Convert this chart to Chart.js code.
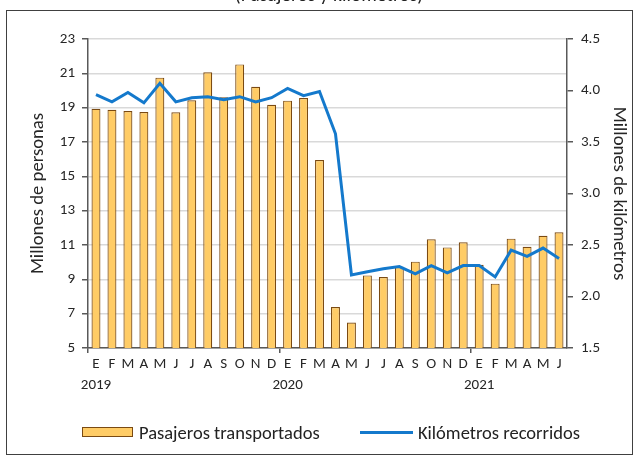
<!DOCTYPE html>
<html>
<head>
<meta charset="utf-8">
<script src="https://cdn.jsdelivr.net/npm/chart.js@4.4.1/dist/chart.umd.min.js"></script>
<style>
  body { margin: 0; background: #fff; font-family: Carlito, "Open Sans", "Liberation Sans", sans-serif; }
  #wrap { position: relative; width: 639px; height: 460px; overflow: hidden; }
  #chart { position: absolute; left: 0; top: 0; }
  #frame { position: absolute; left: 6px; top: 10px; width: 625px; height: 443px; border: 1.5px solid #404040; }
  #title { position: absolute; top: -17px; left: 0; width: 658px; text-align: center; font-size: 19.5px; line-height: 22px; color: #222; }
  .item { position: absolute; top: 423px; height: 18px; display: flex; align-items: center; font-size: 18.5px; color: #222; white-space: nowrap; }
  .swatch { display: inline-block; margin-right: 6px; box-sizing: border-box; }
</style>
</head>
<body>
<div id="wrap">
  <canvas id="chart" width="639" height="460"></canvas>
  <div id="frame"></div>
  <div id="title">(Pasajeros y kilómetros)</div>
  <div id="legend"></div>
</div>
<script>
// months Jan 2019 - Jun 2021
const months = ["E","F","M","A","M","J","J","A","S","O","N","D",
                "E","F","M","A","M","J","J","A","S","O","N","D",
                "E","F","M","A","M","J"];
const years = ["2019", "2020", "2021"];

// millones de personas (left axis)
const pasajeros = [18.94, 18.88, 18.81, 18.75, 20.75, 18.73, 19.43, 21.06, 19.60, 21.52, 20.22, 19.17,
                   19.41, 19.56, 15.95, 7.39, 6.48, 9.23, 9.14, 9.74, 10.03, 11.33, 10.86, 11.16,
                   9.85, 8.75, 11.37, 10.90, 11.54, 11.74];

// millones de kilometros (right axis)
const kilometros = [3.96, 3.89, 3.98, 3.88, 4.07, 3.89, 3.93, 3.94, 3.91, 3.94, 3.89, 3.93,
                    4.02, 3.95, 3.99, 3.58, 2.21, 2.24, 2.27, 2.29, 2.22, 2.30, 2.23, 2.30,
                    2.30, 2.19, 2.45, 2.39, 2.47, 2.37];

const leftTicks = [5, 23, 2];
const rightTicks = [1.5, 4.5, 0.5];

const seriesNames = ["Pasajeros transportados", "Kilómetros recorridos"];

const labels = months.map(function (m, i) {
  return i % 12 === 0 ? [m, years[i / 12]] : m;
});

const axisDark = "#595959";
const textColor = "#262626";
const barFill = "#FFCC66";
const barEdge = "#7A4A12";
const lineBlue = "#1479CC";

Chart.defaults.font.family = "Carlito, 'Open Sans', 'Liberation Sans', sans-serif";
Chart.defaults.color = textColor;

const ctx = document.getElementById("chart").getContext("2d");
const chart = new Chart(ctx, {
  type: "bar",
  data: {
    labels: labels,
    datasets: [
      {
        type: "bar",
        label: seriesNames[0],
        data: pasajeros,
        backgroundColor: barFill,
        borderColor: barEdge,
        borderWidth: 1.2,
        barPercentage: 0.56,
        categoryPercentage: 1.0,
        yAxisID: "y",
        order: 2,
      },
      {
        type: "line",
        label: seriesNames[1],
        data: kilometros,
        borderColor: lineBlue,
        borderWidth: 3,
        pointRadius: 0,
        tension: 0,
        yAxisID: "y1",
        order: 1,
      },
    ],
  },
  options: {
    responsive: false,
    animation: false,
    layout: { padding: { top: 39, left: 0, right: 0, bottom: 60 } },
    plugins: {
      legend: { display: false },
      tooltip: { enabled: false },
    },
    scales: {
      x: {
        offset: true,
        grid: {
          offset: true,
          drawOnChartArea: false,
          tickLength: 5,
          lineWidth: 1.5,
          color: function (c) { return c.index % 12 === 0 ? axisDark : "rgba(0,0,0,0)"; },
        },
        border: { color: axisDark, width: 1.5 },
        ticks: { autoSkip: false, maxRotation: 0, minRotation: 0, padding: 0, font: { size: 15, lineHeight: 1.45 } },
        afterFit: function (s) { s.height = 52; },
      },
      y: {
        position: "left",
        min: leftTicks[0],
        max: leftTicks[1],
        ticks: { stepSize: leftTicks[2], padding: 7, font: { size: 15 } },
        grid: { color: "#D9D9D9", lineWidth: 1.5, tickColor: axisDark, tickLength: 6 },
        border: { color: axisDark, width: 1.5 },
        title: { display: true, text: "Millones de personas", font: { size: 18.7 }, padding: { top: 27, bottom: 0 } },
        afterFit: function (s) { s.width = 88; },
      },
      y1: {
        position: "right",
        min: rightTicks[0],
        max: rightTicks[1],
        ticks: {
          stepSize: rightTicks[2],
          padding: 8,
          font: { size: 15 },
          callback: function (v) { return v.toFixed(1); },
        },
        grid: { drawOnChartArea: false, tickColor: axisDark, tickLength: 6, lineWidth: 1.5 },
        border: { color: axisDark, width: 1.5 },
        title: { display: true, text: "Millones de kilómetros", font: { size: 18.7 }, padding: { top: 9, bottom: 0 } },
        afterFit: function (s) { s.width = 72; },
      },
    },
  },
});

// legend built from the datasets
const legend = document.getElementById("legend");
const legendX = [82, 360];
chart.data.datasets.forEach(function (ds, i) {
  const item = document.createElement("div");
  item.className = "item";
  item.style.left = legendX[i] + "px";
  const sw = document.createElement("span");
  sw.className = "swatch";
  if (ds.type === "bar") {
    sw.style.width = "51px";
    sw.style.height = "10px";
    sw.style.background = ds.backgroundColor;
    sw.style.border = "1.2px solid " + ds.borderColor;
  } else {
    sw.style.width = "53px";
    sw.style.height = "3px";
    sw.style.marginRight = "5px";
    sw.style.background = ds.borderColor;
  }
  item.appendChild(sw);
  item.appendChild(document.createTextNode(ds.label));
  legend.appendChild(item);
});
</script>
</body>
</html>
